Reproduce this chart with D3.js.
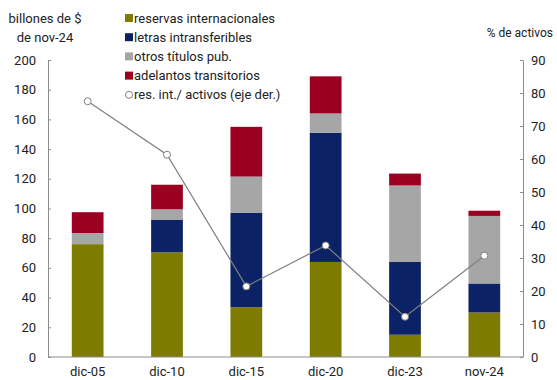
<!DOCTYPE html>
<html>
<head>
<meta charset="utf-8">
<script src="https://cdn.jsdelivr.net/npm/d3@7"></script>
<style>
    body { margin: 0; background: #fff; }
    text { font-family: Roboto, "Noto Sans", sans-serif; fill: #222; }
</style>
</head>
<body>
<div id="scene"></div>
<script>
// data
const periods = ['dic-05', 'dic-10', 'dic-15', 'dic-20', 'dic-23', 'nov-24'];
const reservas = [76, 70.5, 33.5, 64, 15, 30];
const letras = [0, 22, 63.5, 87, 49, 19.5];
const otros = [7.5, 7, 24.5, 13, 51.5, 45.5];
const adelantos = [14, 16.5, 33.5, 25, 8, 3.5];
const resActivos = [77.5, 61.3, 21.4, 33.8, 12.2, 30.7];
const leftTicks = [0, 20, 40, 60, 80, 100, 120, 140, 160, 180, 200];
const rightTicks = [0, 10, 20, 30, 40, 50, 60, 70, 80, 90];

const seriesNames = ['reservas internacionales', 'letras intransferibles', 'otros títulos pub.', 'adelantos transitorios'];
const seriesColors = ['#7d7c00', '#0c2266', '#a6a6a6', '#9c0020'];

const width = 557;
const height = 380;
const plotLeft = 48;
const plotRight = 523;
const plotTop = 60;
const plotBottom = 357;

const svg = d3.select('#scene')
    .append('svg')
    .attr('width', width)
    .attr('height', height);

const xScale = d3.scaleBand().domain(periods).range([plotLeft, plotRight + 1]).padding(0);
const yScale = d3.scaleLinear().domain([0, 200]).range([plotBottom, plotTop]);
const y2Scale = d3.scaleLinear().domain([0, 90]).range([plotBottom, plotTop]);

// stack the four series
const rows = periods.map((p, i) => ({
    period: p, s0: reservas[i], s1: letras[i], s2: otros[i], s3: adelantos[i]
}));
const stacked = d3.stack().keys(['s0', 's1', 's2', 's3'])(rows);

const barWidth = xScale.bandwidth() * 0.4;

stacked.forEach((layer, k) => {
    svg.append('g')
        .selectAll('rect')
        .data(layer)
        .enter().append('rect')
        .attr('x', d => xScale(d.data.period) + (xScale.bandwidth() - barWidth) / 2)
        .attr('y', d => yScale(d[1]))
        .attr('width', barWidth)
        .attr('height', d => yScale(d[0]) - yScale(d[1]))
        .attr('fill', seriesColors[k]);
});

// axes
const axisColor = '#8c8c8c';

const leftAxis = svg.append('g')
    .attr('transform', `translate(${plotLeft},0)`)
    .call(d3.axisRight(yScale).tickValues(leftTicks).tickSize(3).tickSizeOuter(0).tickFormat(''));
const rightAxis = svg.append('g')
    .attr('transform', `translate(${plotRight},0)`)
    .call(d3.axisLeft(y2Scale).tickValues(rightTicks).tickSize(3).tickSizeOuter(0).tickFormat(''));
[leftAxis, rightAxis].forEach(a => {
    a.select('.domain').attr('stroke', axisColor);
    a.selectAll('line').attr('stroke', axisColor);
});

svg.append('line')
    .attr('x1', plotLeft).attr('x2', plotRight)
    .attr('y1', yScale(0)).attr('y2', yScale(0))
    .attr('stroke', axisColor);

svg.selectAll('.yLabel')
    .data(leftTicks)
    .enter().append('text')
    .attr('class', 'yLabel')
    .attr('x', 36)
    .attr('y', d => yScale(d))
    .attr('dy', '0.35em')
    .attr('text-anchor', 'end')
    .style('font-size', '13px')
    .text(String);

svg.selectAll('.y2Label')
    .data(rightTicks)
    .enter().append('text')
    .attr('class', 'y2Label')
    .attr('x', 531)
    .attr('y', d => y2Scale(d))
    .attr('dy', '0.35em')
    .attr('text-anchor', 'start')
    .style('font-size', '13px')
    .text(String);

svg.selectAll('.xLabel')
    .data(periods)
    .enter().append('text')
    .attr('class', 'xLabel')
    .attr('x', d => xScale(d) + xScale.bandwidth() / 2)
    .attr('y', 376)
    .attr('text-anchor', 'middle')
    .style('font-size', '13px')
    .text(String);

// axis titles
svg.append('text')
    .attr('x', 45).attr('y', 23)
    .attr('text-anchor', 'middle')
    .style('font-size', '13px')
    .text('billones de $');
svg.append('text')
    .attr('x', 45).attr('y', 42)
    .attr('text-anchor', 'middle')
    .style('font-size', '13px')
    .text('de nov-24');
svg.append('text')
    .attr('x', 553).attr('y', 37)
    .attr('text-anchor', 'end')
    .style('font-size', '12px')
    .text('% de activos');

// line on right axis
const lineColor = '#7f7f7f';
const line = d3.line()
    .x((d, i) => xScale(periods[i]) + xScale.bandwidth() / 2)
    .y(d => y2Scale(d));

svg.append('path')
    .datum(resActivos)
    .attr('d', line)
    .attr('fill', 'none')
    .attr('stroke', lineColor)
    .attr('stroke-width', 1.2);

svg.selectAll('.dot')
    .data(resActivos)
    .enter().append('circle')
    .attr('class', 'dot')
    .attr('cx', (d, i) => xScale(periods[i]) + xScale.bandwidth() / 2)
    .attr('cy', d => y2Scale(d))
    .attr('r', 3.5)
    .attr('fill', '#fff')
    .attr('stroke', lineColor)
    .attr('stroke-width', 1);

// legend
const legend = svg.append('g').attr('transform', 'translate(125,0)');
seriesNames.forEach((name, i) => {
    const y = 18 + i * 19.2;
    legend.append('rect')
        .attr('x', 0).attr('y', y - 4)
        .attr('width', 8).attr('height', 8)
        .attr('fill', seriesColors[i]);
    legend.append('text')
        .attr('x', 9).attr('y', y)
        .attr('dy', '0.35em')
        .style('font-size', '13px')
        .text(name);
});
const ly = 18 + 4 * 19.2;
legend.append('circle')
    .attr('cx', 4).attr('cy', ly)
    .attr('r', 3.5)
    .attr('fill', '#fff')
    .attr('stroke', lineColor);
legend.append('text')
    .attr('x', 9).attr('y', ly)
    .attr('dy', '0.35em')
    .style('font-size', '13px')
    .text('res. int./ activos (eje der.)');
</script>
</body>
</html>
